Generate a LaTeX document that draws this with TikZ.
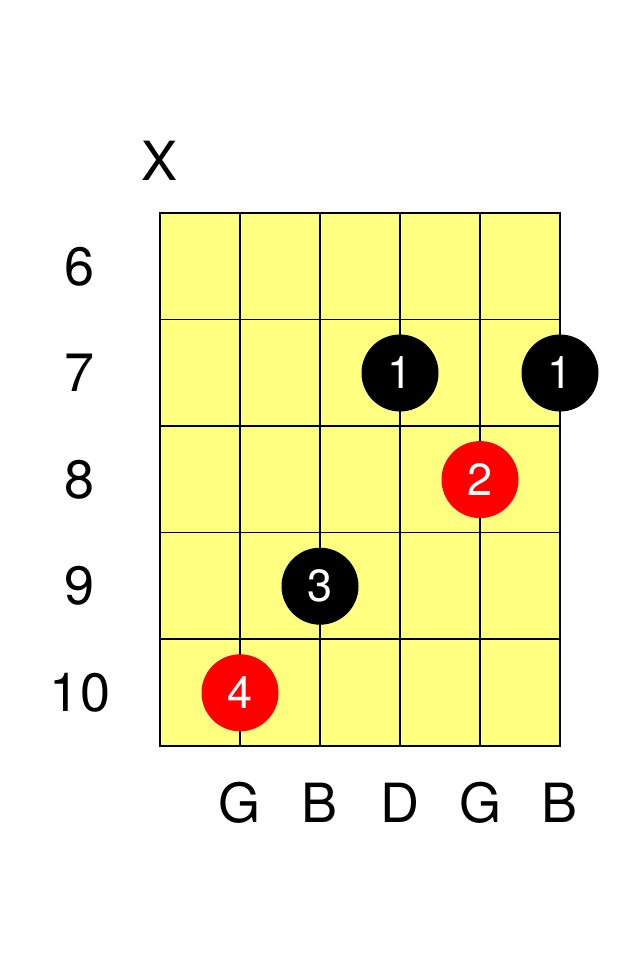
\documentclass[tikz,border=0pt]{standalone}
\usepackage{fontspec}
\setmainfont{TeX Gyre Heros}
\usetikzlibrary{calc}
\definecolor{boardyellow}{RGB}{255,255,128}
\tikzset{
  label text/.style={font=\fontsize{54}{60}\selectfont},
  finger/.style={circle,minimum size=77pt,inner sep=0pt,text=white,font=\fontsize{45}{50}\selectfont}
}

\begin{document}
\begin{tikzpicture}[x=1pt,y=-1pt]
\useasboundingbox (0,0) rectangle (640,960);
\draw node [fill=boardyellow,rectangle,minimum width=400pt,minimum height=533pt,inner sep=0pt](board) at (360,479.5){};
\foreach \s in {1,...,4}
  \draw[line width=1.6pt] ($ (board.north west)+(\s*80,0)$) -- ($ (board.south west)+(\s*80,0)$);
\foreach \f in {1,...,4}
  \draw[line width=1.6pt] ($ (board.north west)+(0,\f*106.6)$) -- ($ (board.north east)+(0,\f*106.6)$);
\draw[line width=2.4pt] (board.north west) rectangle (board.south east);

\draw node [label text] (mute) at ($ (board.north west)+(0,-52)$){X};

\draw node [label text] (fret6) at (80,266.3){6};
\draw node [label text] (fret7) at (80,373){7};
\draw node [label text] (fret8) at (80,479.6){8};
\draw node [label text] (fret9) at (80,586.2){9};
\draw node [label text] (fret10) at (80,692.8){10};

\draw node [label text] (strG) at (240,803){G};
\draw node [label text] (strB) at (320,803){B};
\draw node [label text] (strD) at (400,803){D};
\draw node [label text] (strGg) at (480,803){G};
\draw node [label text] (strBb) at (560,803){B};

\draw node [finger,fill=black] (barD) at (400,373){1};
\draw node [finger,fill=black] (barB) at (560,373){1};
\draw node [finger,fill=red] (midG) at (480,479.6){2};
\draw node [finger,fill=black] (ringB) at (320,586.2){3};
\draw node [finger,fill=red] (pinkG) at (240,692.8){4};

\end{tikzpicture}
\end{document}
